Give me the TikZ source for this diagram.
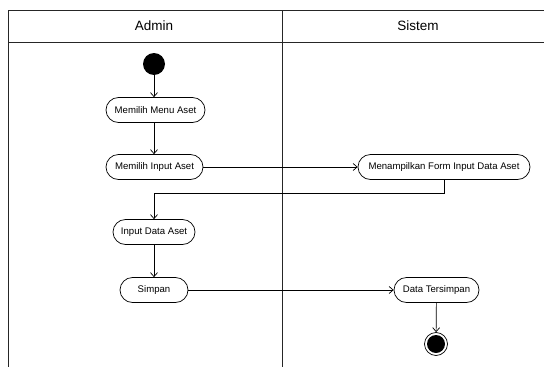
\documentclass[tikz,border=0pt]{standalone}
\usepackage{fontspec}
\setmainfont{Liberation Sans}
\usetikzlibrary{arrows.meta}
\begin{document}
\begin{tikzpicture}[x=1pt,y=-1pt,
  lane/.style={draw=black!85, line width=0.8pt},
  act/.style={draw=black, line width=0.7pt, rounded corners=12.5pt, minimum height=25pt, inner sep=0pt, font=\fontsize{9.6}{11}\selectfont},
  arr/.style={draw=black, line width=0.7pt, -{Straight Barb[length=4pt,width=7pt]}},
  hdr/.style={font=\fontsize{13.5}{15}\selectfont}]
\useasboundingbox (0,0) rectangle (544,367);
% swimlanes
\draw[lane] (544,10) -- (8,10) -- (8,367);
\draw[lane] (8,42) -- (544,42);
\draw[lane] (282,10) -- (282,367);
\node[hdr] (hA) at (154,26) {Admin};
\node[hdr] (hS) at (418,26) {Sistem};
% nodes
\node[circle, fill=black, minimum size=22pt, inner sep=0pt] (start) at (154,64) {};
\node[act, minimum width=99pt] (n1) at (155.5,110) {Memilih Menu Aset};
\node[act, minimum width=97pt] (n2) at (154.5,167) {Memilih Input Aset};
\node[act, minimum width=172pt] (n3) at (444,167) {Menampilkan Form Input Data Aset};
\node[act, minimum width=82pt] (n4) at (154,232) {Input Data Aset};
\node[act, minimum width=68pt] (n5) at (154,290) {Simpan};
\node[act, minimum width=85pt] (n6) at (436.5,290) {Data Tersimpan};
\node[circle, draw=black, line width=0.7pt, minimum size=23pt, inner sep=0pt] (end) at (436,344) {};
\node[circle, fill=black, minimum size=18pt, inner sep=0pt] (endin) at (end.center) {};
\coordinate (bend) at (300,193);
% connectors
\draw[arr] (start) -- (start |- n1.north);
\draw[arr] (n1.south -| start) -- (n2.north -| start);
\draw[arr] (n2) -- (n3);
\draw[arr] (n3.south) -- (n3.south |- bend) -| (n4.north);
\draw[arr] (n4) -- (n5);
\draw[arr] (n5) -- (n6);
\draw[arr] (n6) -- (end);
\end{tikzpicture}
\end{document}
